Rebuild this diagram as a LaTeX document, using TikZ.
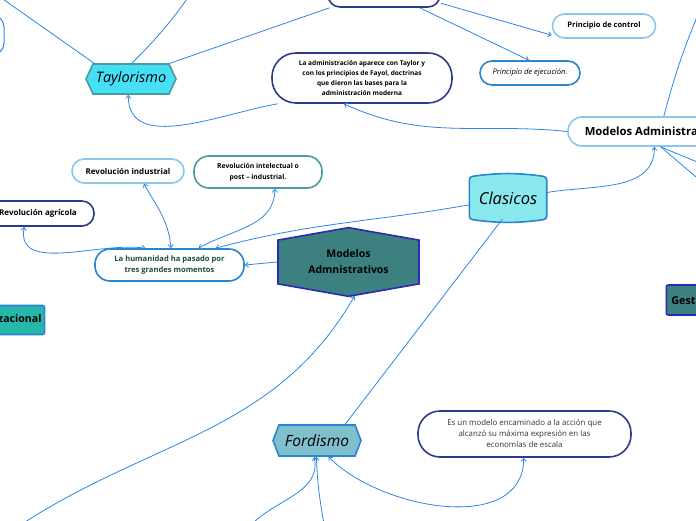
\documentclass[tikz,border=0pt]{standalone}
\usepackage{fontspec}
\setmainfont{Open Sans}
\usetikzlibrary{shapes.symbols,arrows.meta,backgrounds}

\definecolor{linkblue}{HTML}{2B86E8}
\definecolor{navy}{HTML}{2E3A8C}
\definecolor{paleblue}{HTML}{8DC6E6}
\definecolor{midblue}{HTML}{2A85D0}
\definecolor{tealline}{HTML}{4A9C9C}
\definecolor{cyanfill}{HTML}{45E0F5}
\definecolor{clasfill}{HTML}{88E8EE}
\definecolor{tealfill}{HTML}{3D8080}
\definecolor{greenfill}{HTML}{25B8A8}
\definecolor{fordfill}{HTML}{80BFCC}
\definecolor{deepblue}{HTML}{2A2AB5}
\definecolor{darkgreen}{HTML}{1E4D3C}

\begin{document}
\begin{tikzpicture}[x=1pt,y=1pt,>={Straight Barb[length=3pt,width=5pt]},
  link/.style={draw=linkblue,line width=0.8pt},
  pill/.style={draw,rounded corners=12pt,line width=1.6pt,fill=white,align=center,
               inner sep=2pt,font=\bfseries\fontsize{7.5}{11}\selectfont},
  hexa/.style={signal,signal to=west and east,draw,line width=1.6pt,inner sep=0pt},
  bigtext/.style={font=\itshape\fontsize{14.5}{16}\selectfont}]

  \useasboundingbox (0,0) rectangle (696,520);

  % nodes
  \node (ntop) at (384,532) [pill,draw=navy,minimum width=112pt,minimum height=38pt] {};
  \node (nleft) at (-40,485) [pill,draw=linkblue,line width=1pt,minimum width=88pt,minimum height=40pt] {};
  \node (tay) at (131,441) [hexa,draw=tealline,fill=cyanfill,signal pointer angle=130,
                            minimum width=90pt,minimum height=30pt,bigtext] {Taylorismo};
  \node (adm) at (362,442) [pill,draw=navy,rounded corners=24pt,minimum width=180pt,minimum height=50pt,
                            font=\bfseries\fontsize{6.5}{10.3}\selectfont]
        {La administración aparece con Taylor y\\con los principios de Fayol, doctrinas\\que dieron las bases para la\\administración moderna};
  \node (ctrl) at (604,494) [pill,draw=paleblue,minimum width=103pt,minimum height=24pt] {Principio de control};
  \node (ejec) at (530,447) [pill,draw=midblue,minimum width=100pt,minimum height=24pt,
                             font=\itshape\fontsize{7.6}{9}\selectfont] {Principio de ejecución.};
  \node (modadm) at (655,388.5) [pill,draw=paleblue,rounded corners=14pt,minimum width=174pt,minimum height=29pt,
                                 font=\bfseries\fontsize{11.3}{13}\selectfont] {Modelos Administrativos};
  \node (clas) at (508,322) [inner sep=0pt,minimum width=77pt,minimum height=42pt,
                             font=\itshape\fontsize{16.5}{18}\selectfont] {Clasicos};
  \node (rind) at (128,349) [pill,draw=paleblue,minimum width=112pt,minimum height=24pt,
                             font=\bfseries\fontsize{8}{9}\selectfont] {Revolución industrial};
  \node (rint) at (258,348) [pill,draw=tealline,rounded corners=15pt,minimum width=128pt,minimum height=32pt,
                             font=\bfseries\fontsize{6.8}{11}\selectfont] {Revolución intelectual o\\post – industrial.};
  \node (ragr) at (38,306.5) [pill,draw=navy,minimum width=112pt,minimum height=25pt,
                              font=\bfseries\fontsize{8}{9}\selectfont] {Revolución agrícola};
  \node (hum) at (169.5,255) [pill,draw=midblue,rounded corners=15pt,minimum width=149pt,minimum height=32pt,
                              text=darkgreen,font=\bfseries\fontsize{7.6}{11}\selectfont] {La humanidad ha pasado por\\tres grandes momentos};
  \node (mad) at (348.5,258) [signal,signal to=north and south,signal pointer angle=160,draw=deepblue,
                              fill=tealfill,line width=1.6pt,inner sep=0pt,minimum width=141pt,minimum height=58pt,
                              align=center,font=\bfseries\fontsize{10.5}{16}\selectfont] {Modelos\\Admnistrativos};
  \node (org) at (2,200) [draw=midblue,fill=greenfill,line width=1.6pt,rounded corners=2pt,inner sep=3pt,
                          minimum height=29pt,font=\bfseries\fontsize{10.6}{12}\selectfont] {Organizacional};
  \node (gest) at (692,220) [draw=deepblue,fill=tealfill,line width=1.6pt,rounded corners=2pt,inner sep=5pt,
                             minimum height=30pt,font=\bfseries\fontsize{10.8}{12}\selectfont] {Gestión};
  \node (ford) at (317,79.5) [hexa,draw=midblue,fill=fordfill,signal pointer angle=138,
                              minimum width=88pt,minimum height=31pt,font=\itshape\fontsize{15.5}{17}\selectfont] {Fordismo};
  \node (esmod) at (524.5,86) [pill,draw=navy,rounded corners=22pt,minimum width=213pt,minimum height=46pt,
                               font=\fontsize{7.9}{11}\selectfont,text=black!80]
        {Es un modelo encaminado a la acción que\\alcanzó su máxima expresión en las\\economías de escala};

  \begin{scope}[on background layer]
    \draw [draw=midblue,fill=clasfill,line width=1.6pt,rounded corners=3pt]
      (clas.north west) to[bend left=8] (clas.north east) -- (clas.south east)
      to[bend left=8] (clas.south west) -- cycle;
  \end{scope}

  % loose ends
  \coordinate (offA) at (-10,530);
  \coordinate (offB) at (192,528);
  \coordinate (offC) at (702,515);
  \coordinate (offD) at (702,356);
  \coordinate (offE) at (702,338);
  \coordinate (offF) at (22,-4);
  \coordinate (offG) at (252,-4);
  \coordinate (offH) at (324,-4);

  % connectors
  \draw [link] (tay.157) -- (offA);
  \draw [link] (tay.87) to[bend right=5] (offB);
  \draw [link] (tay.22) -- (ntop.200);
  \draw [link,->] (ntop.-15) -- (ctrl.190);
  \draw [link,->] (ntop.-29) -- (ejec.95);
  \draw [link,->] (adm.197) to[out=190,in=-90] (tay.-100);
  \draw [link,->] (modadm.west) to[out=174,in=-25] (adm.-125);
  \draw [link] (modadm.60) to[bend left=4] (offC);
  \draw [link] (modadm.-70) -- (offD);
  \draw [link] (modadm.-70) -- (offE);
  \draw [link,->] (clas.8) to[out=10,in=-90] (modadm.-92);
  \draw [link,->] (clas.190) to[out=190,in=15] (hum.20);
  \draw [link] (clas.-105) -- (ford.30);
  \draw [link,<->] (ragr.-136) to[out=-100,in=172] (hum.145);
  \draw [link,<->] (rind.-39) to[out=-60,in=95] (hum.85);
  \draw [link,<->] (rint.-45) to[out=-90,in=30] (hum.30);
  \draw [link,->] (mad.west) -- (hum.east);
  \draw [link,->] (offF) to[out=33,in=-120] (mad.-80);
  \draw [link,->] (offG) to[out=45,in=-78] (ford.-100);
  \draw [link,->] (offH) to[out=100,in=-88] (ford.-92);
  \draw [link,<->] (ford.-55) to[out=-45,in=-90] (esmod.-92);
\end{tikzpicture}
\end{document}
